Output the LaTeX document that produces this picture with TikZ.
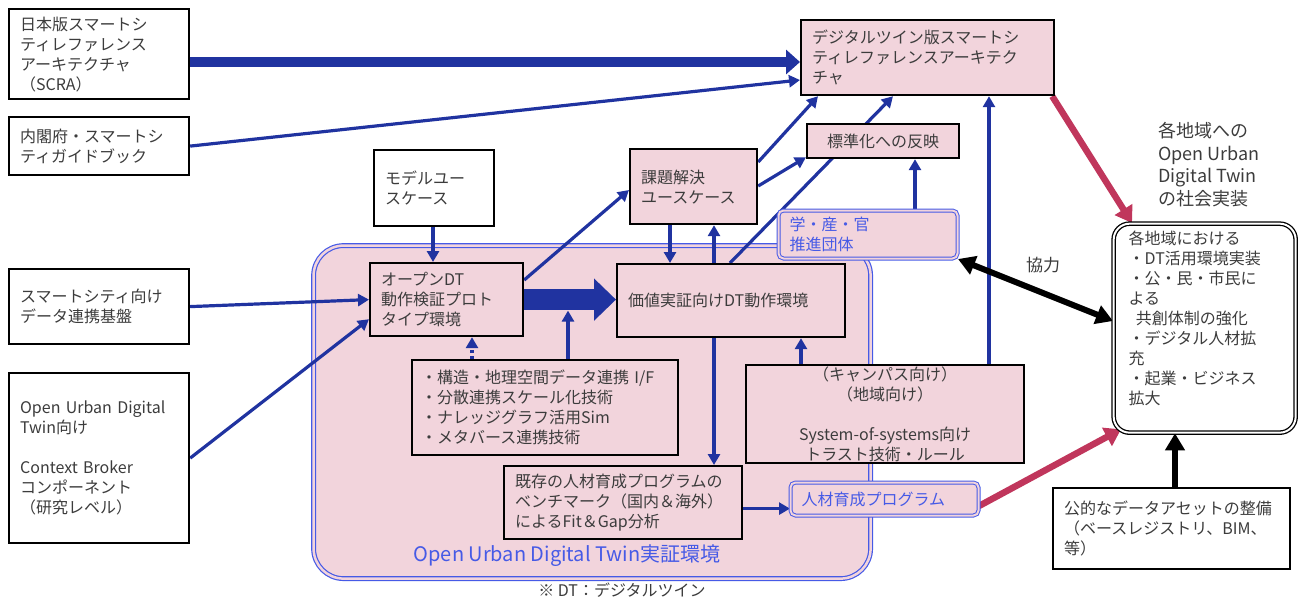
\documentclass[tikz,border=0pt]{standalone}
\usepackage{fontspec}
\setmainfont{Noto Sans CJK JP}
\usetikzlibrary{arrows.meta,calc}
\pgfdeclarelayer{envlayer}
\pgfdeclarelayer{arrowlayer}
\pgfsetlayers{envlayer,arrowlayer,main}
\definecolor{dtpink}{RGB}{242,212,220}
\definecolor{dtblue}{RGB}{32,51,160}
\definecolor{dtlink}{RGB}{70,90,230}
\definecolor{dtred}{RGB}{192,54,92}
\definecolor{dtink}{RGB}{60,60,60}
\begin{document}
\begin{tikzpicture}[x=1pt,y=-1pt,
    font=\fontsize{16}{20}\selectfont,
    card/.style={draw=black,line width=2.2pt,anchor=north west,inner xsep=11pt,inner ysep=0pt,align=left,text=dtink},
    plaincard/.style={card,fill=white},
    pinkcard/.style={card,fill=dtpink},
    teamcard/.style={card,draw=dtlink,line width=1pt,double=dtpink,double distance=2pt,rounded corners=5pt,fill=dtpink,text=dtlink},
    link/.style={draw=dtblue,line width=3.2pt,-{Triangle[length=11pt,width=12pt]}},
    mainlink/.style={draw=dtblue,line width=10pt,-{Triangle[length=14pt,width=24pt]}},
    fatlink/.style={draw=dtblue,line width=21pt,-{Triangle[length=22pt,width=41pt]}},
    redlink/.style={draw=dtred,line width=6.5pt,-{Triangle[length=16pt,width=20pt]}},
    boldlink/.style={draw=black,line width=6pt,-{Triangle[length=17pt,width=19pt]}}]
\useasboundingbox (0,0) rectangle (1298,600);

\begin{pgfonlayer}{envlayer}
\node[draw=dtlink,line width=1.2pt,double=dtpink,double distance=2.5pt,fill=dtpink,rounded corners=30pt,
    anchor=north west,minimum width=557pt,minimum height=333pt,inner sep=0pt] (envbox) at (313,245) {};
\end{pgfonlayer}

\node[plaincard,text width=158pt,minimum height=90pt] (scra) at (8,8) {日本版スマートシ\\ティレファレンス\\アーキテクチャ\\（SCRA）};
\node[plaincard,text width=158pt,minimum height=58pt] (guide) at (8,116) {内閣府・スマートシ\\ティガイドブック};
\node[plaincard,text width=98pt,minimum height=76pt] (modeluc) at (373,149) {モデルユー\\スケース};
\node[plaincard,text width=158pt,minimum height=75pt] (dataplat) at (8,268) {スマートシティ向け\\データ連携基盤};
\node[plaincard,text width=158pt,minimum height=170pt] (broker) at (8,372) {Open Urban Digital\\Twin向け\\\mbox{}\\Context Broker\\コンポーネント\\（研究レベル）};

\node[pinkcard,text width=231pt,minimum height=75pt] (dtscra) at (800,19) {デジタルツイン版スマートシ\\ティレファレンスアーキテク\\チャ};
\node[pinkcard,text width=130pt,minimum height=34pt,align=center] (stdref) at (806,123) {標準化への反映};
\node[pinkcard,text width=105pt,minimum height=75pt] (issueuc) at (629,148) {課題解決\\ユースケース};
\node[teamcard,text width=157pt,minimum height=48pt] (promo) at (778,210) {学・産・官\\推進団体};
\node[pinkcard,text width=131pt,minimum height=73pt] (opendt) at (369,262) {オープンDT\\動作検証プロト\\タイプ環境};
\node[pinkcard,text width=206pt,minimum height=73pt] (valenv) at (616,263) {価値実証向けDT動作環境};
\node[pinkcard,inner xsep=9pt,text width=248pt,minimum height=95pt] (techlist) at (411,359) {・構造・地理空間データ連携 I/F\\・分散連携スケール化技術\\・ナレッジグラフ活用Sim\\・メタバース連携技術};
\node[pinkcard,text width=256pt,minimum height=98pt,align=center] (trust) at (745,364) {（キャンパス向け）\\（地域向け）\\\mbox{}\\System-of-systems向け\\トラスト技術・ルール};
\node[pinkcard,text width=216pt,minimum height=73pt] (bench) at (503,465) {既存の人材育成プログラムの\\ベンチマーク（国内＆海外）\\によるFit＆Gap分析};
\node[teamcard,text width=166pt,minimum height=33pt] (hrprog) at (790,482) {人材育成プログラム};

\node[card,line width=1.3pt,double=white,double distance=2pt,rounded corners=16pt,fill=white,inner xsep=15pt,
    text width=152pt,minimum height=209pt] (region) at (1113,223)
    {各地域における\\・DT活用環境実装\\・公・民・市民に\\よる\\\hspace*{0.45em}共創体制の強化\\・デジタル人材拡\\充\\・起業・ビジネス\\拡大\\\mbox{}};
\node[plaincard,text width=215pt,minimum height=81pt] (dataset) at (1052,487) {公的なデータアセットの整備\\（ベースレジストリ、BIM、\\等）};

\node[anchor=north west,align=left,inner sep=0pt,text=dtink,font=\fontsize{18}{22.7}\selectfont] (implnote) at (1158,122) {各地域への\\Open Urban\\Digital Twin\\の社会実装};
\node[text=dtink,font=\fontsize{17}{20}\selectfont] (coop) at (1043,265) {協力};
\node[text=dtlink,font=\fontsize{20}{24}\selectfont] (envlabel) at (567,556) {Open Urban Digital Twin実証環境};
\node[text=dtink] (footnote) at (622,590) {※ DT：デジタルツイン};

\begin{pgfonlayer}{arrowlayer}
\draw[mainlink] ($(scra.north east)+(0,54)$) -- ($(dtscra.north west)+(0,43)$);
\draw[link] (guide.east) -- ($(dtscra.north west)+(0,61)$);
\draw[link] ($(issueuc.north east)+(0,14)$) -- ($(dtscra.south west)+(18,0)$);
\draw[link] ($(issueuc.north east)+(0,38)$) -- ($(stdref.south west)+(0,-2)$);
\draw[link] ($(valenv.north west)+(114,0)$) -- ($(dtscra.south west)+(93,0)$);
\draw[link] ($(promo.north west)+(137,0)$) coordinate (promotop) -- (promotop |- stdref.south);
\draw[link] ($(trust.north west)+(244,0)$) coordinate (trusttop) -- (trusttop |- dtscra.south);
\draw[link] ($(issueuc.south west)+(41,0)$) coordinate (issuedown) -- (issuedown |- valenv.north);
\draw[link] ($(valenv.north west)+(98,0)$) coordinate (valup) -- (valup |- issueuc.south);
\draw[link] ($(modeluc.south west)+(60,0)$) coordinate (modeldown) -- (modeldown |- opendt.north);
\draw[link] ($(opendt.north east)+(0,18)$) -- ($(issueuc.north west)+(0,42)$);
\draw[fatlink] (opendt.east) -- (opendt.east -| valenv.west);
\draw[link] ($(techlist.north west)+(157,0)$) coordinate (techup) -- ($(techup |- opendt.east)+(0,11)$);
\draw[link,dash pattern=on 3pt off 3pt] ($(techlist.north west)+(61,0)$) coordinate (techdot) -- (techdot |- opendt.south);
\draw[link] (dataplat.east) -- (opendt.west);
\draw[link] (broker.east) -- ($(opendt.south west)+(0,-18)$);
\draw[link] ($(valenv.south west)+(98,0)$) coordinate (valdown) -- (valdown |- bench.north);
\draw[link] ($(trust.north west)+(56,0)$) coordinate (trustup) -- (trustup |- valenv.south);
\draw[link] ($(bench.east)+(0,6)$) coordinate (benchout) -- (benchout -| hrprog.west);
\draw[redlink] ($(hrprog.east)+(0,7)$) -- ($(region.south west)+(8,-4)$);
\draw[redlink] ($(dtscra.south east)+(-3,0)$) -- ($(region.north west)+(19,0)$);
\draw[boldlink,{Triangle[length=17pt,width=19pt]}-{Triangle[length=17pt,width=19pt]}] (promo.south east) -- ($(region.north west)+(0,98)$);
\draw[boldlink] ($(dataset.north west)+(123,0)$) coordinate (dataup) -- (dataup |- region.south);
\end{pgfonlayer}
\end{tikzpicture}
\end{document}
